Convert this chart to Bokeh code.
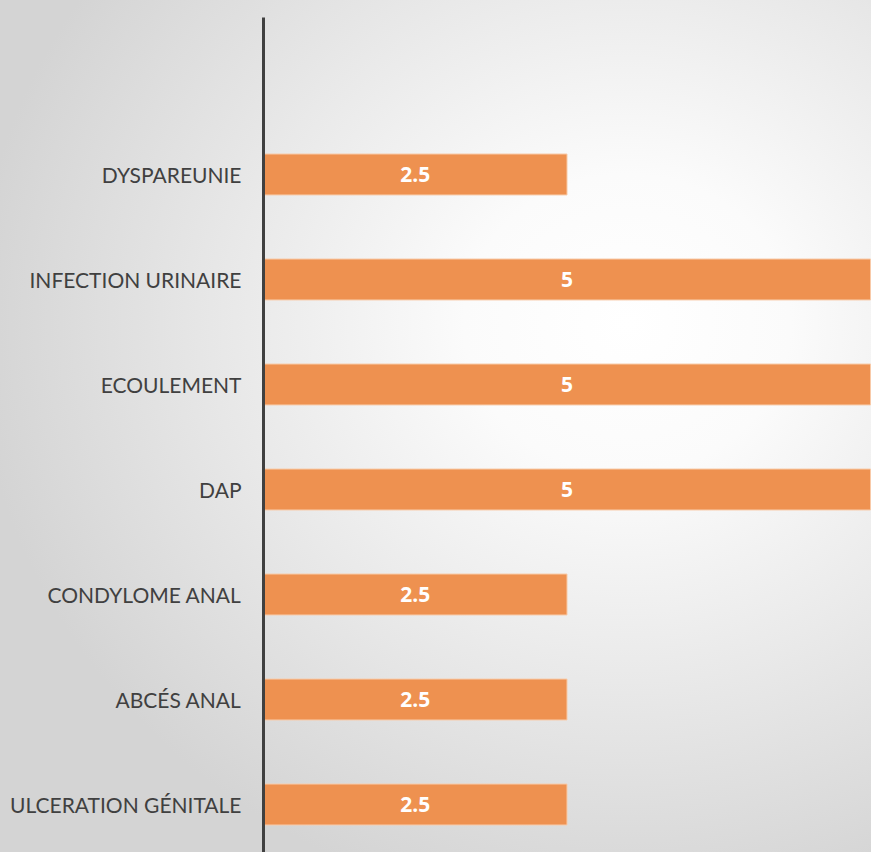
from bokeh.plotting import figure
from bokeh.models import Range1d, LinearAxis, FixedTicker, ColumnDataSource
from bokeh.core.properties import value
from bokeh.embed import file_html
from bokeh.resources import INLINE

# Data (top to bottom as shown)
categories = ["DYSPAREUNIE", "INFECTION URINAIRE", "ECOULEMENT", "DAP",
              "CONDYLOME ANAL", "ABCÉS ANAL", "ULCERATION GÉNITALE"]
values = [2.5, 5, 5, 5, 2.5, 2.5, 2.5]

n = len(categories)
positions = [n - 1 - i for i in range(n)]
labels = [f"{v:g}" for v in values]
half = [v / 2 for v in values]

src = ColumnDataSource(dict(y=positions, v=values, lab=labels, xm=half, cat=categories))

p = figure(width=871, height=852, output_backend="svg", toolbar_location=None,
           x_range=Range1d(0, 5.008), y_range=Range1d(-0.457, 7.495),
           x_axis_location=None, y_axis_location=None,
           min_border_left=263, min_border_top=17, min_border_right=0, min_border_bottom=0)
p.background_fill_color = None
p.border_fill_color = None
p.outline_line_color = None
p.styles = {"background": "radial-gradient(ellipse 75% 70% at 72% 38%, #ffffff 0%, #fbfbfb 25%, #e9e9e9 60%, #d4d4d4 100%)"}
p.xgrid.visible = False
p.ygrid.visible = False

ax = LinearAxis(ticker=FixedTicker(ticks=positions),
                major_label_overrides={pos: c for pos, c in zip(positions, categories)})
ax.axis_line_color = "#404040"
ax.axis_line_width = 3
ax.major_tick_line_color = None
ax.minor_tick_line_color = None
ax.major_label_standoff = 16
ax.major_label_text_font = "Lato"
ax.major_label_text_font_size = "21px"
ax.major_label_text_color = "#404040"
p.add_layout(ax, "left")

p.hbar(y="y", right="v", left=0, height=0.39, source=src,
       fill_color="#EE9150", line_color="#F8CBA9", line_width=1)

p.text(x="xm", y="y", text="lab", source=src, text_color="white",
       text_font=value("Open Sans"), text_font_style="bold", text_font_size="21px",
       text_align="center", text_baseline="middle")

open("out.html", "w").write(file_html(p, INLINE))
